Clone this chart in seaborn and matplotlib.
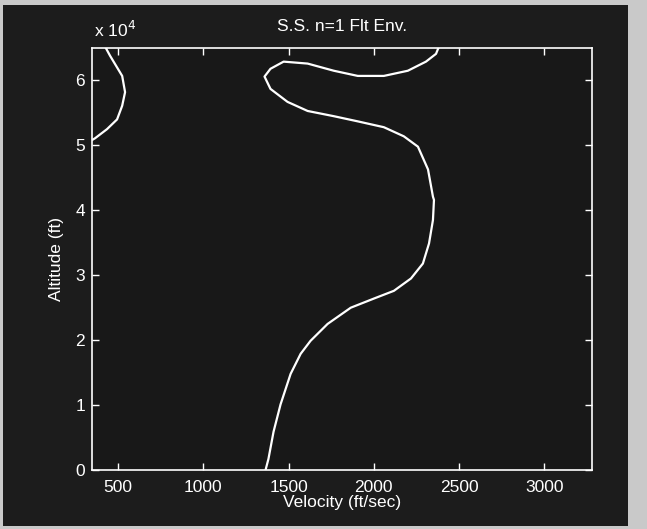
import matplotlib
matplotlib.use("Agg")
import matplotlib.pyplot as plt
import seaborn as sns
import numpy as np
import pandas as pd
from matplotlib.patches import Rectangle
from matplotlib.ticker import FuncFormatter, FixedLocator

# ---- data ----
# main envelope boundary: velocity (ft/sec), altitude (ft)
main_vel = [1365, 1382, 1412, 1453, 1512, 1571, 1629, 1729, 1865, 2000, 2118,
            2218, 2288, 2324, 2347, 2353, 2347, 2318, 2259, 2176, 2059, 1906,
            1765, 1612, 1494, 1394, 1359, 1394, 1471, 1612, 1765, 1906, 2059,
            2200, 2306, 2365, 2382, 2395]
main_alt = [0, 1700, 5900, 10100, 14800, 17900, 19900, 22500, 25000, 26400, 27600,
            29500, 31800, 34900, 38500, 41600, 42100, 46300, 49800, 51400, 52800, 53700,
            54500, 55300, 56700, 58700, 60600, 61800, 62900, 62600, 61500, 60700, 60700,
            61500, 62900, 64100, 65200, 66000]
# low-speed lobe at upper left
lobe_vel = [405, 424, 453, 524, 541, 524, 494, 435, 365, 320]
lobe_alt = [66000, 65200, 63800, 60700, 58200, 56100, 54000, 52500, 51100, 50400]

title = "S.S. n=1 Flt Env."
xlabel = "Velocity (ft/sec)"
ylabel = "Altitude (ft)"
xticks = [500, 1000, 1500, 2000, 2500, 3000]
yticks = [0, 10000, 20000, 30000, 40000, 50000, 60000]

sns.set_theme(style="dark")
plt.rcParams["font.family"] = ["Liberation Sans", "DejaVu Sans"]

W, H = 647, 529
fig = plt.figure(figsize=(W / 100, H / 100), dpi=100, facecolor="#c9c9c9")
# dark figure backdrop (scanned MATLAB window)
fig.patches.append(Rectangle((3 / W, 1 - 526 / H), (628 - 3) / W, (526 - 5) / H,
                             transform=fig.transFigure, facecolor="#1c1c1c",
                             edgecolor="none", zorder=-5))

ax = fig.add_axes([92 / W, 1 - 470 / H, (592 - 92) / W, (470 - 48) / H])
ax.set_zorder(2)
ax.set_facecolor("#181818")

df_main = pd.DataFrame({"v": main_vel, "h": main_alt})
df_lobe = pd.DataFrame({"v": lobe_vel, "h": lobe_alt})
sns.lineplot(data=df_main, x="v", y="h", sort=False, estimator=None,
             color="white", lw=1.6, ax=ax)
sns.lineplot(data=df_lobe, x="v", y="h", sort=False, estimator=None,
             color="white", lw=1.6, ax=ax)

ax.set_xlim(347, 3280)
ax.set_ylim(0, 65000)
ax.xaxis.set_major_locator(FixedLocator(xticks))
ax.yaxis.set_major_locator(FixedLocator(yticks))
ax.yaxis.set_major_formatter(FuncFormatter(lambda v, p: f"{v / 1e4:g}"))
ax.grid(False)

for s in ax.spines.values():
    s.set_visible(True)
    s.set_color("white")
    s.set_linewidth(1.2)

ax.tick_params(axis="both", which="both", direction="in", length=5, width=1,
               color="white", labelcolor="white", labelsize=12.5,
               top=True, right=True, bottom=True, left=True)
ax.tick_params(axis="x", pad=7)
ax.tick_params(axis="y", pad=5)

ax.set_xlabel(xlabel, color="white", fontsize=12.5, labelpad=0)
ax.set_ylabel(ylabel, color="white", fontsize=12.5, labelpad=8)
ax.set_title(title, color="white", fontsize=12.5, pad=12)
ax.text(0.005, 1.02, r"x 10$^4$", transform=ax.transAxes, color="white",
        fontsize=12.5, ha="left", va="bottom")

fig.savefig("out.png", dpi=100, facecolor=fig.get_facecolor())
